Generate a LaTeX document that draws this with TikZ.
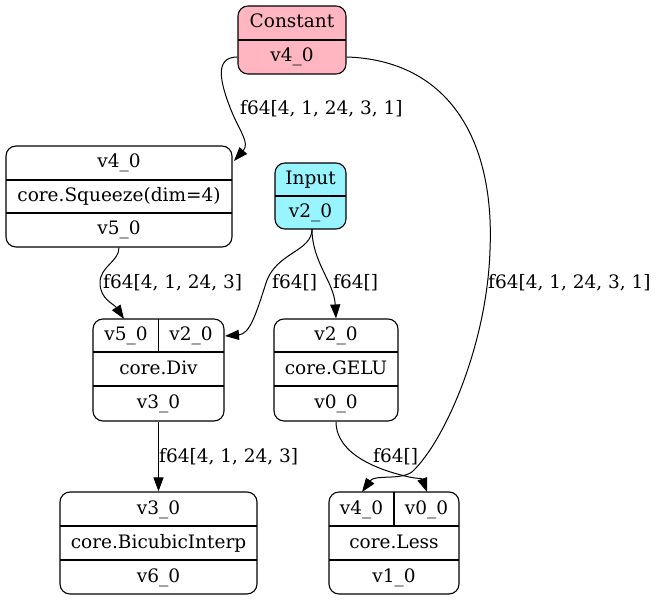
\documentclass[tikz,border=0pt]{standalone}
\usepackage{fontspec}
\setmainfont{DejaVu Serif}
\usetikzlibrary{arrows.meta,calc}
\definecolor{pinkc}{HTML}{FFB6C1}
\definecolor{cyanc}{HTML}{98F5FF}
\begin{document}
\begin{tikzpicture}[x=1pt,y=-1pt,
  box/.style={draw, rounded corners=10pt, line width=1.1pt, inner sep=0pt},
  txt/.style={inner sep=0pt, font=\fontsize{18.5}{22}\selectfont, text height=14pt, text depth=4pt},
  elbl/.style={inner sep=0pt, anchor=west, font=\fontsize{18.5}{22}\selectfont, text height=14pt, text depth=4pt},
  edge/.style={line width=1pt, -{Triangle[length=14pt,width=10pt]}},
  sep/.style={line width=1.1pt}
]
\useasboundingbox (0,0) rectangle (660,601);

% Constant
\node[box, fill=pinkc, minimum width=108pt, minimum height=68pt] (constant) at (292,40) {};
\draw[sep] (238,40) -- (346,40);
\node[txt] (constantT) at (292,23) {Constant};
\node[txt] (constantV) at (292,57) {v4\_0};

% Squeeze
\node[box, minimum width=226pt, minimum height=101pt] (squeeze) at (119,196.5) {};
\draw[sep] (6,180) -- (232,180);
\draw[sep] (6,213) -- (232,213);
\node[txt] (squeezeI) at (119,163) {v4\_0};
\node[txt] (squeezeT) at (119,196.5) {core.Squeeze(dim=4)};
\node[txt] (squeezeO) at (119,230) {v5\_0};

% Input
\node[box, fill=cyanc, minimum width=71pt, minimum height=66pt] (input) at (310.5,196) {};
\draw[sep] (275,196) -- (346,196);
\node[txt] (inputT) at (310.5,179.5) {Input};
\node[txt] (inputV) at (310.5,212.5) {v2\_0};

% Div
\node[box, minimum width=131pt, minimum height=102pt] (div) at (158.5,370) {};
\draw[sep] (93,352) -- (224,352);
\draw[sep] (93,386) -- (224,386);
\draw[sep] (158.5,319) -- (158.5,352);
\node[txt] (divI1) at (126,335.5) {v5\_0};
\node[txt] (divI2) at (191,335.5) {v2\_0};
\node[txt] (divT) at (158.5,369) {core.Div};
\node[txt] (divO) at (158.5,403.5) {v3\_0};

% GELU
\node[box, minimum width=124pt, minimum height=102pt] (gelu) at (336,370) {};
\draw[sep] (274,352) -- (398,352);
\draw[sep] (274,386) -- (398,386);
\node[txt] (geluI) at (336,335.5) {v2\_0};
\node[txt] (geluT) at (336,369) {core.GELU};
\node[txt] (geluO) at (336,403.5) {v0\_0};

% BicubicInterp
\node[box, minimum width=197pt, minimum height=102pt] (bic) at (158.5,543) {};
\draw[sep] (60,526) -- (257,526);
\draw[sep] (60,560) -- (257,560);
\node[txt] (bicI) at (158.5,509) {v3\_0};
\node[txt] (bicT) at (158.5,543) {core.BicubicInterp};
\node[txt] (bicO) at (158.5,577) {v6\_0};

% Less
\node[box, minimum width=130pt, minimum height=102pt] (less) at (394,543) {};
\draw[sep] (329,526) -- (459,526);
\draw[sep] (329,560) -- (459,560);
\draw[sep] (394,492) -- (394,526);
\node[txt] (lessI1) at (361.5,509) {v4\_0};
\node[txt] (lessI2) at (426.5,509) {v0\_0};
\node[txt] (lessT) at (394,543) {core.Less};
\node[txt] (lessO) at (394,577) {v1\_0};

% ports
\coordinate (cW) at (constant.west |- constantV);
\coordinate (cE) at (constant.east |- constantV);
\coordinate (sqIn) at (234,161);
\coordinate (sqOut) at (squeezeO |- squeeze.south);
\coordinate (inOut) at (312,229);
\coordinate (divIn1) at (124,319);
\coordinate (divIn2) at (225,336);
\coordinate (geluIn) at (gelu.north);
\coordinate (geluOut) at (gelu.south);
\coordinate (divOut) at (div.south);
\coordinate (bicIn) at (bic.north);
\coordinate (lessIn1) at (362,492);
\coordinate (lessIn2) at (427,492);

% edges
\draw[edge] (cW) .. controls (214,57) and (220,82) .. (231,110) .. controls (240,132) and (250,143) .. (sqIn);
\node[elbl] at (240,110) {f64[4, 1, 24, 3, 1]};

\draw[edge] (cE) .. controls (445,60) and (495,135) .. (490,250) .. controls (487,345) and (445,440) .. (413,471) .. controls (402,481) and (375,474) .. (lessIn1);
\node[elbl] at (488,283) {f64[4, 1, 24, 3, 1]};

\draw[edge] (sqOut) .. controls (119,262) and (100,266) .. (100,283) .. controls (100,299) and (114,304) .. (divIn1);
\node[elbl] at (103,283) {f64[4, 1, 24, 3]};

\draw[edge] (inOut) .. controls (312,252) and (276,252) .. (266,283) .. controls (256,314) and (250,334) .. (divIn2);
\node[elbl] at (272,283) {f64[]};

\draw[edge] (inOut) .. controls (312,262) and (334,282) .. (geluIn);
\node[elbl] at (333,283) {f64[]};

\draw[edge] (geluOut) .. controls (336,455) and (380,470) .. (405,476) .. controls (416,479) and (422,478) .. (lessIn2);
\node[elbl] at (373,457) {f64[]};

\draw[edge] (divOut) -- (bicIn);
\node[elbl] at (159,457) {f64[4, 1, 24, 3]};

\end{tikzpicture}
\end{document}
